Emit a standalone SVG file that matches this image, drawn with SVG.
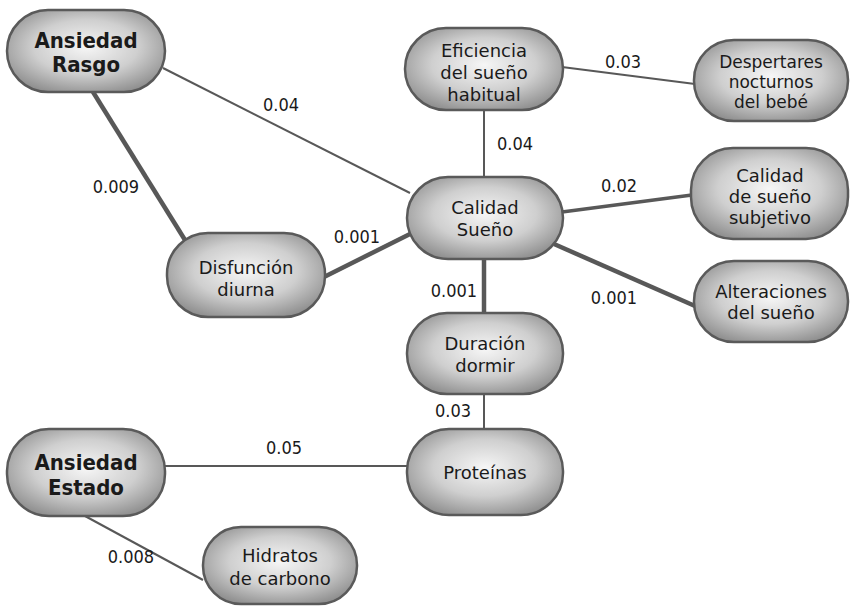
<svg xmlns="http://www.w3.org/2000/svg" width="854" height="607" viewBox="0 0 854 607">
  <style>
    .node rect { fill: url(#shade); stroke: #5a5a5a; stroke-width: 2.5; }
    .node text { font-family: "DejaVu Sans", "Liberation Sans", sans-serif; font-size: 18px; fill: #1a1a1a; text-anchor: middle; }
    .node text.tight { font-size: 17px; }
    .node text.title { font-family: "DejaVu Sans Condensed", "DejaVu Sans", sans-serif; font-weight: bold; font-size: 22px; }
    .edge { stroke: #585858; fill: none; stroke-linecap: butt; }
    .w1 { stroke-width: 2; }
    .w2 { stroke-width: 3.5; }
    .w3 { stroke-width: 4.5; }
    .lbl { font-family: "DejaVu Sans Condensed", "DejaVu Sans", sans-serif; font-size: 18px; fill: #1a1a1a; text-anchor: middle; }
  </style>
  <defs>
    <radialGradient id="shade" cx="50%" cy="45%" r="60%">
      <stop offset="0%" stop-color="#f6f6f6"/>
      <stop offset="55%" stop-color="#cfcfcf"/>
      <stop offset="100%" stop-color="#8f8f8f"/>
    </radialGradient>
  </defs>
  <rect width="854" height="607" fill="#ffffff"/>

  <!-- connectors and their values -->
  <g id="connectors">
    <line class="edge w1" x1="163" y1="68" x2="410" y2="193"/>
    <line class="edge w3" x1="93" y1="92" x2="185" y2="240"/>
    <line class="edge w3" x1="322" y1="278" x2="410" y2="234"/>
    <line class="edge w1" x1="484" y1="110" x2="484" y2="177"/>
    <line class="edge w1" x1="562" y1="67" x2="695" y2="84"/>
    <line class="edge w2" x1="562" y1="212" x2="692" y2="195"/>
    <line class="edge w3" x1="554" y1="244" x2="695" y2="306"/>
    <line class="edge w3" x1="484" y1="259" x2="484" y2="313"/>
    <line class="edge w1" x1="484" y1="394" x2="484" y2="429"/>
    <line class="edge w1" x1="165" y1="466" x2="407" y2="466"/>
    <line class="edge w1" x1="85" y1="516" x2="203" y2="580"/>
    <text class="lbl" x="281" y="111">0.04</text>
    <text class="lbl" x="116" y="193">0.009</text>
    <text class="lbl" x="357" y="243">0.001</text>
    <text class="lbl" x="515" y="150">0.04</text>
    <text class="lbl" x="623" y="68">0.03</text>
    <text class="lbl" x="619" y="192">0.02</text>
    <text class="lbl" x="454" y="297">0.001</text>
    <text class="lbl" x="614" y="304">0.001</text>
    <text class="lbl" x="453" y="417">0.03</text>
    <text class="lbl" x="284" y="454">0.05</text>
    <text class="lbl" x="131" y="563">0.008</text>
  </g>

  <!-- nodes -->
  <g id="ansiedad-rasgo" class="node">
    <rect x="7" y="10" width="158" height="82" rx="41"/>
    <text class="title" x="86" y="48">Ansiedad</text>
    <text class="title" x="86" y="72">Rasgo</text>
  </g>
  <g id="eficiencia" class="node">
    <rect x="405" y="28" width="158" height="82" rx="41"/>
    <text x="484" y="57">Eficiencia</text>
    <text x="484" y="79">del sueño</text>
    <text x="484" y="101">habitual</text>
  </g>
  <g id="despertares" class="node">
    <rect x="694" y="40" width="154" height="81" rx="40"/>
    <text class="tight" x="771" y="68">Despertares</text>
    <text class="tight" x="771" y="88">nocturnos</text>
    <text class="tight" x="771" y="108">del bebé</text>
  </g>
  <g id="calidad-sueno" class="node">
    <rect x="407" y="177" width="156" height="82" rx="41"/>
    <text x="485" y="214">Calidad</text>
    <text x="485" y="236">Sueño</text>
  </g>
  <g id="calidad-subjetivo" class="node">
    <rect x="691" y="148" width="157" height="91" rx="42"/>
    <text x="770" y="182">Calidad</text>
    <text x="770" y="203">de sueño</text>
    <text x="770" y="224">subjetivo</text>
  </g>
  <g id="alteraciones" class="node">
    <rect x="694" y="261" width="154" height="81" rx="40"/>
    <text x="771" y="298">Alteraciones</text>
    <text x="771" y="319">del sueño</text>
  </g>
  <g id="disfuncion" class="node">
    <rect x="167" y="233" width="158" height="84" rx="41"/>
    <text x="246" y="274">Disfunción</text>
    <text x="246" y="296">diurna</text>
  </g>
  <g id="duracion" class="node">
    <rect x="407" y="313" width="156" height="81" rx="40"/>
    <text x="485" y="350">Duración</text>
    <text x="485" y="372">dormir</text>
  </g>
  <g id="proteinas" class="node">
    <rect x="407" y="429" width="156" height="86" rx="42"/>
    <text x="485" y="479">Proteínas</text>
  </g>
  <g id="ansiedad-estado" class="node">
    <rect x="7" y="429" width="158" height="87" rx="42"/>
    <text class="title" x="86" y="470">Ansiedad</text>
    <text class="title" x="86" y="495">Estado</text>
  </g>
  <g id="hidratos" class="node">
    <rect x="203" y="527" width="154" height="77" rx="38"/>
    <text x="280" y="562">Hidratos</text>
    <text x="280" y="585">de carbono</text>
  </g>
</svg>
